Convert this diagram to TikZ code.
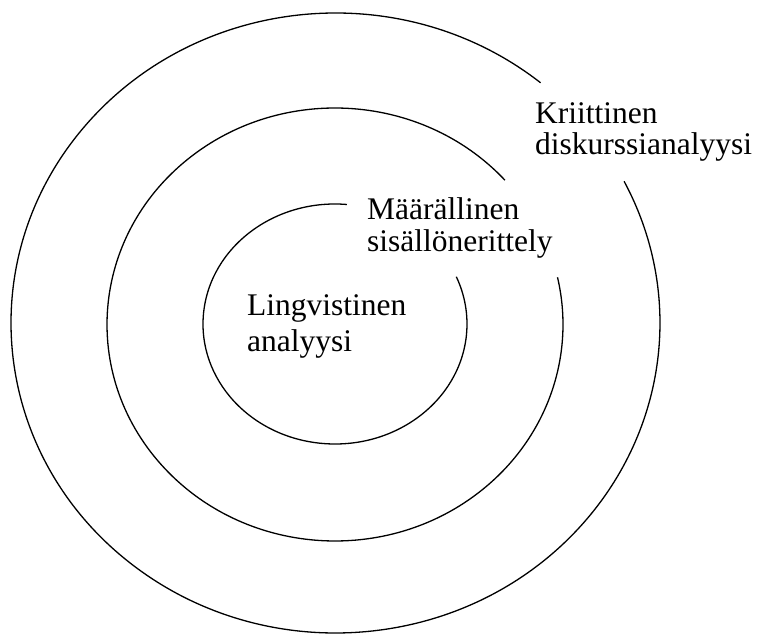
\documentclass[tikz,border=0pt]{standalone}
\usepackage{fontspec}
\setmainfont{Liberation Serif}
\begin{document}
\begin{tikzpicture}[x=1pt,y=1pt,
  ring/.style={line width=1.3pt, black},
  ringlabel/.style={anchor=base west, inner sep=0pt, align=left,
    font=\fontsize{31.5}{#1}\selectfont}]
  \useasboundingbox (0,0) rectangle (758,635);

  % centres of the three rings
  \coordinate (co) at (335.5,312);
  \coordinate (cm) at (335,310.5);
  \coordinate (ci) at (335,311);

  % rings, each left open where its label sits
  \draw[ring] ([shift={(50.8:324.5 and 310)}]co)
    arc[start angle=50.8, end angle=387.2, x radius=324.5, y radius=310];
  \draw[ring] ([shift={(41.8:228 and 216.5)}]cm)
    arc[start angle=41.8, end angle=372.6, x radius=228, y radius=216.5];
  \draw[ring] ([shift={(84.8:132 and 120)}]ci)
    arc[start angle=84.8, end angle=383.2, x radius=132, y radius=120];

  % labels (anchored on the baseline of their last line)
  \node[ringlabel=31] (kda) at (535,480.7) {Kriittinen\\diskurssianalyysi};
  \node[ringlabel=31.7] (msr) at (367,383.3) {Määrällinen\\sisällönerittely};
  \node[ringlabel=36.5] (lan) at (247,283.2) {Lingvistinen\\analyysi};
\end{tikzpicture}
\end{document}
